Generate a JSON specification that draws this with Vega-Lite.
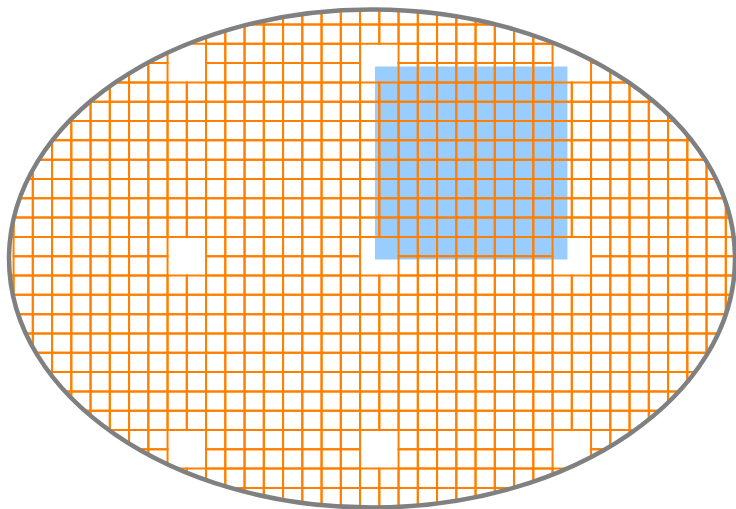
{
"$schema": "https://vega.github.io/schema/vega-lite/v6.json",
"width": 736, "height": 509, "padding": 0,
"autosize": {"type": "none"},
"background": "white",
"config": {"view": {"stroke": null}},
"datasets": {
"highlight": [{"c": 18.8, "c2": 28.8, "r": 1.2, "r2": 11.2}],
"wafer": [{"c": 18.647, "r": 11.145}],
"cells": [
{"r":-2,"c":12},{"r":-2,"c":13},{"r":-2,"c":14},{"r":-2,"c":15},{"r":-2,"c":16},{"r":-2,"c":17},{"r":-2,"c":18},{"r":-2,"c":19},{"r":-2,"c":20},{"r":-2,"c":21},{"r":-2,"c":22},{"r":-2,"c":23},{"r":-2,"c":24},
{"r":-1,"c":9},{"r":-1,"c":10},{"r":-1,"c":11},{"r":-1,"c":12},{"r":-1,"c":13},{"r":-1,"c":14},{"r":-1,"c":15},{"r":-1,"c":16},{"r":-1,"c":17},{"r":-1,"c":18},{"r":-1,"c":19},{"r":-1,"c":20},{"r":-1,"c":21},{"r":-1,"c":22},{"r":-1,"c":23},{"r":-1,"c":24},{"r":-1,"c":25},{"r":-1,"c":26},{"r":-1,"c":27},{"r":-1,"c":28},
{"r":0,"c":7},{"r":0,"c":10},{"r":0,"c":11},{"r":0,"c":12},{"r":0,"c":13},{"r":0,"c":14},{"r":0,"c":15},{"r":0,"c":16},{"r":0,"c":17},{"r":0,"c":20},{"r":0,"c":21},{"r":0,"c":22},{"r":0,"c":23},{"r":0,"c":24},{"r":0,"c":25},{"r":0,"c":26},{"r":0,"c":27},{"r":0,"c":30},
{"r":1,"c":5},{"r":1,"c":6},{"r":1,"c":7},{"r":1,"c":10},{"r":1,"c":11},{"r":1,"c":12},{"r":1,"c":13},{"r":1,"c":14},{"r":1,"c":15},{"r":1,"c":16},{"r":1,"c":17},{"r":1,"c":20},{"r":1,"c":21},{"r":1,"c":22},{"r":1,"c":23},{"r":1,"c":24},{"r":1,"c":25},{"r":1,"c":26},{"r":1,"c":27},{"r":1,"c":30},{"r":1,"c":31},
{"r":2,"c":4},{"r":2,"c":5},{"r":2,"c":6},{"r":2,"c":7},{"r":2,"c":8},{"r":2,"c":9},{"r":2,"c":10},{"r":2,"c":11},{"r":2,"c":12},{"r":2,"c":13},{"r":2,"c":14},{"r":2,"c":15},{"r":2,"c":16},{"r":2,"c":17},{"r":2,"c":18},{"r":2,"c":19},{"r":2,"c":20},{"r":2,"c":21},{"r":2,"c":22},{"r":2,"c":23},{"r":2,"c":24},{"r":2,"c":25},{"r":2,"c":26},{"r":2,"c":27},{"r":2,"c":28},{"r":2,"c":29},{"r":2,"c":30},{"r":2,"c":31},{"r":2,"c":32},{"r":2,"c":33},
{"r":3,"c":2},{"r":3,"c":3},{"r":3,"c":4},{"r":3,"c":5},{"r":3,"c":6},{"r":3,"c":7},{"r":3,"c":8},{"r":3,"c":9},{"r":3,"c":10},{"r":3,"c":11},{"r":3,"c":12},{"r":3,"c":13},{"r":3,"c":14},{"r":3,"c":15},{"r":3,"c":16},{"r":3,"c":17},{"r":3,"c":18},{"r":3,"c":19},{"r":3,"c":20},{"r":3,"c":21},{"r":3,"c":22},{"r":3,"c":23},{"r":3,"c":24},{"r":3,"c":25},{"r":3,"c":26},{"r":3,"c":27},{"r":3,"c":28},{"r":3,"c":29},{"r":3,"c":30},{"r":3,"c":31},{"r":3,"c":32},{"r":3,"c":33},{"r":3,"c":34},
{"r":4,"c":2},{"r":4,"c":3},{"r":4,"c":4},{"r":4,"c":5},{"r":4,"c":6},{"r":4,"c":7},{"r":4,"c":8},{"r":4,"c":9},{"r":4,"c":10},{"r":4,"c":11},{"r":4,"c":12},{"r":4,"c":13},{"r":4,"c":14},{"r":4,"c":15},{"r":4,"c":16},{"r":4,"c":17},{"r":4,"c":18},{"r":4,"c":19},{"r":4,"c":20},{"r":4,"c":21},{"r":4,"c":22},{"r":4,"c":23},{"r":4,"c":24},{"r":4,"c":25},{"r":4,"c":26},{"r":4,"c":27},{"r":4,"c":28},{"r":4,"c":29},{"r":4,"c":30},{"r":4,"c":31},{"r":4,"c":32},{"r":4,"c":33},{"r":4,"c":34},{"r":4,"c":35},
{"r":5,"c":1},{"r":5,"c":2},{"r":5,"c":3},{"r":5,"c":4},{"r":5,"c":5},{"r":5,"c":6},{"r":5,"c":7},{"r":5,"c":8},{"r":5,"c":9},{"r":5,"c":10},{"r":5,"c":11},{"r":5,"c":12},{"r":5,"c":13},{"r":5,"c":14},{"r":5,"c":15},{"r":5,"c":16},{"r":5,"c":17},{"r":5,"c":18},{"r":5,"c":19},{"r":5,"c":20},{"r":5,"c":21},{"r":5,"c":22},{"r":5,"c":23},{"r":5,"c":24},{"r":5,"c":25},{"r":5,"c":26},{"r":5,"c":27},{"r":5,"c":28},{"r":5,"c":29},{"r":5,"c":30},{"r":5,"c":31},{"r":5,"c":32},{"r":5,"c":33},{"r":5,"c":34},{"r":5,"c":35},
{"r":6,"c":0},{"r":6,"c":1},{"r":6,"c":2},{"r":6,"c":3},{"r":6,"c":4},{"r":6,"c":5},{"r":6,"c":6},{"r":6,"c":7},{"r":6,"c":8},{"r":6,"c":9},{"r":6,"c":10},{"r":6,"c":11},{"r":6,"c":12},{"r":6,"c":13},{"r":6,"c":14},{"r":6,"c":15},{"r":6,"c":16},{"r":6,"c":17},{"r":6,"c":18},{"r":6,"c":19},{"r":6,"c":20},{"r":6,"c":21},{"r":6,"c":22},{"r":6,"c":23},{"r":6,"c":24},{"r":6,"c":25},{"r":6,"c":26},{"r":6,"c":27},{"r":6,"c":28},{"r":6,"c":29},{"r":6,"c":30},{"r":6,"c":31},{"r":6,"c":32},{"r":6,"c":33},{"r":6,"c":34},{"r":6,"c":35},{"r":6,"c":36},
{"r":7,"c":0},{"r":7,"c":1},{"r":7,"c":2},{"r":7,"c":3},{"r":7,"c":4},{"r":7,"c":5},{"r":7,"c":6},{"r":7,"c":7},{"r":7,"c":8},{"r":7,"c":9},{"r":7,"c":10},{"r":7,"c":11},{"r":7,"c":12},{"r":7,"c":13},{"r":7,"c":14},{"r":7,"c":15},{"r":7,"c":16},{"r":7,"c":17},{"r":7,"c":18},{"r":7,"c":19},{"r":7,"c":20},{"r":7,"c":21},{"r":7,"c":22},{"r":7,"c":23},{"r":7,"c":24},{"r":7,"c":25},{"r":7,"c":26},{"r":7,"c":27},{"r":7,"c":28},{"r":7,"c":29},{"r":7,"c":30},{"r":7,"c":31},{"r":7,"c":32},{"r":7,"c":33},{"r":7,"c":34},{"r":7,"c":35},{"r":7,"c":36},
{"r":8,"c":0},{"r":8,"c":1},{"r":8,"c":2},{"r":8,"c":3},{"r":8,"c":4},{"r":8,"c":5},{"r":8,"c":6},{"r":8,"c":7},{"r":8,"c":8},{"r":8,"c":9},{"r":8,"c":10},{"r":8,"c":11},{"r":8,"c":12},{"r":8,"c":13},{"r":8,"c":14},{"r":8,"c":15},{"r":8,"c":16},{"r":8,"c":17},{"r":8,"c":18},{"r":8,"c":19},{"r":8,"c":20},{"r":8,"c":21},{"r":8,"c":22},{"r":8,"c":23},{"r":8,"c":24},{"r":8,"c":25},{"r":8,"c":26},{"r":8,"c":27},{"r":8,"c":28},{"r":8,"c":29},{"r":8,"c":30},{"r":8,"c":31},{"r":8,"c":32},{"r":8,"c":33},{"r":8,"c":34},{"r":8,"c":35},{"r":8,"c":36},{"r":8,"c":37},
{"r":9,"c":-1},{"r":9,"c":0},{"r":9,"c":1},{"r":9,"c":2},{"r":9,"c":3},{"r":9,"c":4},{"r":9,"c":5},{"r":9,"c":6},{"r":9,"c":7},{"r":9,"c":8},{"r":9,"c":9},{"r":9,"c":10},{"r":9,"c":11},{"r":9,"c":12},{"r":9,"c":13},{"r":9,"c":14},{"r":9,"c":15},{"r":9,"c":16},{"r":9,"c":17},{"r":9,"c":18},{"r":9,"c":19},{"r":9,"c":20},{"r":9,"c":21},{"r":9,"c":22},{"r":9,"c":23},{"r":9,"c":24},{"r":9,"c":25},{"r":9,"c":26},{"r":9,"c":27},{"r":9,"c":28},{"r":9,"c":29},{"r":9,"c":30},{"r":9,"c":31},{"r":9,"c":32},{"r":9,"c":33},{"r":9,"c":34},{"r":9,"c":35},{"r":9,"c":36},{"r":9,"c":37},
{"r":10,"c":0},{"r":10,"c":1},{"r":10,"c":2},{"r":10,"c":3},{"r":10,"c":4},{"r":10,"c":5},{"r":10,"c":6},{"r":10,"c":7},{"r":10,"c":10},{"r":10,"c":11},{"r":10,"c":12},{"r":10,"c":13},{"r":10,"c":14},{"r":10,"c":15},{"r":10,"c":16},{"r":10,"c":17},{"r":10,"c":20},{"r":10,"c":21},{"r":10,"c":22},{"r":10,"c":23},{"r":10,"c":24},{"r":10,"c":25},{"r":10,"c":26},{"r":10,"c":27},{"r":10,"c":30},{"r":10,"c":31},{"r":10,"c":32},{"r":10,"c":33},{"r":10,"c":34},{"r":10,"c":35},{"r":10,"c":36},{"r":10,"c":37},
{"r":11,"c":0},{"r":11,"c":1},{"r":11,"c":2},{"r":11,"c":3},{"r":11,"c":4},{"r":11,"c":5},{"r":11,"c":6},{"r":11,"c":7},{"r":11,"c":10},{"r":11,"c":11},{"r":11,"c":12},{"r":11,"c":13},{"r":11,"c":14},{"r":11,"c":15},{"r":11,"c":16},{"r":11,"c":17},{"r":11,"c":20},{"r":11,"c":21},{"r":11,"c":22},{"r":11,"c":23},{"r":11,"c":24},{"r":11,"c":25},{"r":11,"c":26},{"r":11,"c":27},{"r":11,"c":30},{"r":11,"c":31},{"r":11,"c":32},{"r":11,"c":33},{"r":11,"c":34},{"r":11,"c":35},{"r":11,"c":36},{"r":11,"c":37},
{"r":12,"c":-1},{"r":12,"c":0},{"r":12,"c":1},{"r":12,"c":2},{"r":12,"c":3},{"r":12,"c":4},{"r":12,"c":5},{"r":12,"c":6},{"r":12,"c":7},{"r":12,"c":8},{"r":12,"c":9},{"r":12,"c":10},{"r":12,"c":11},{"r":12,"c":12},{"r":12,"c":13},{"r":12,"c":14},{"r":12,"c":15},{"r":12,"c":16},{"r":12,"c":17},{"r":12,"c":18},{"r":12,"c":19},{"r":12,"c":20},{"r":12,"c":21},{"r":12,"c":22},{"r":12,"c":23},{"r":12,"c":24},{"r":12,"c":25},{"r":12,"c":26},{"r":12,"c":27},{"r":12,"c":28},{"r":12,"c":29},{"r":12,"c":30},{"r":12,"c":31},{"r":12,"c":32},{"r":12,"c":33},{"r":12,"c":34},{"r":12,"c":35},{"r":12,"c":36},{"r":12,"c":37},
{"r":13,"c":-1},{"r":13,"c":0},{"r":13,"c":1},{"r":13,"c":2},{"r":13,"c":3},{"r":13,"c":4},{"r":13,"c":5},{"r":13,"c":6},{"r":13,"c":7},{"r":13,"c":8},{"r":13,"c":9},{"r":13,"c":10},{"r":13,"c":11},{"r":13,"c":12},{"r":13,"c":13},{"r":13,"c":14},{"r":13,"c":15},{"r":13,"c":16},{"r":13,"c":17},{"r":13,"c":18},{"r":13,"c":19},{"r":13,"c":20},{"r":13,"c":21},{"r":13,"c":22},{"r":13,"c":23},{"r":13,"c":24},{"r":13,"c":25},{"r":13,"c":26},{"r":13,"c":27},{"r":13,"c":28},{"r":13,"c":29},{"r":13,"c":30},{"r":13,"c":31},{"r":13,"c":32},{"r":13,"c":33},{"r":13,"c":34},{"r":13,"c":35},{"r":13,"c":36},{"r":13,"c":37},
{"r":14,"c":0},{"r":14,"c":1},{"r":14,"c":2},{"r":14,"c":3},{"r":14,"c":4},{"r":14,"c":5},{"r":14,"c":6},{"r":14,"c":7},{"r":14,"c":8},{"r":14,"c":9},{"r":14,"c":10},{"r":14,"c":11},{"r":14,"c":12},{"r":14,"c":13},{"r":14,"c":14},{"r":14,"c":15},{"r":14,"c":16},{"r":14,"c":17},{"r":14,"c":18},{"r":14,"c":19},{"r":14,"c":20},{"r":14,"c":21},{"r":14,"c":22},{"r":14,"c":23},{"r":14,"c":24},{"r":14,"c":25},{"r":14,"c":26},{"r":14,"c":27},{"r":14,"c":28},{"r":14,"c":29},{"r":14,"c":30},{"r":14,"c":31},{"r":14,"c":32},{"r":14,"c":33},{"r":14,"c":34},{"r":14,"c":35},{"r":14,"c":36},{"r":14,"c":37},
{"r":15,"c":0},{"r":15,"c":1},{"r":15,"c":2},{"r":15,"c":3},{"r":15,"c":4},{"r":15,"c":5},{"r":15,"c":6},{"r":15,"c":7},{"r":15,"c":8},{"r":15,"c":9},{"r":15,"c":10},{"r":15,"c":11},{"r":15,"c":12},{"r":15,"c":13},{"r":15,"c":14},{"r":15,"c":15},{"r":15,"c":16},{"r":15,"c":17},{"r":15,"c":18},{"r":15,"c":19},{"r":15,"c":20},{"r":15,"c":21},{"r":15,"c":22},{"r":15,"c":23},{"r":15,"c":24},{"r":15,"c":25},{"r":15,"c":26},{"r":15,"c":27},{"r":15,"c":28},{"r":15,"c":29},{"r":15,"c":30},{"r":15,"c":31},{"r":15,"c":32},{"r":15,"c":33},{"r":15,"c":34},{"r":15,"c":35},{"r":15,"c":36},
{"r":16,"c":1},{"r":16,"c":2},{"r":16,"c":3},{"r":16,"c":4},{"r":16,"c":5},{"r":16,"c":6},{"r":16,"c":7},{"r":16,"c":8},{"r":16,"c":9},{"r":16,"c":10},{"r":16,"c":11},{"r":16,"c":12},{"r":16,"c":13},{"r":16,"c":14},{"r":16,"c":15},{"r":16,"c":16},{"r":16,"c":17},{"r":16,"c":18},{"r":16,"c":19},{"r":16,"c":20},{"r":16,"c":21},{"r":16,"c":22},{"r":16,"c":23},{"r":16,"c":24},{"r":16,"c":25},{"r":16,"c":26},{"r":16,"c":27},{"r":16,"c":28},{"r":16,"c":29},{"r":16,"c":30},{"r":16,"c":31},{"r":16,"c":32},{"r":16,"c":33},{"r":16,"c":34},{"r":16,"c":35},{"r":16,"c":36},
{"r":17,"c":1},{"r":17,"c":2},{"r":17,"c":3},{"r":17,"c":4},{"r":17,"c":5},{"r":17,"c":6},{"r":17,"c":7},{"r":17,"c":8},{"r":17,"c":9},{"r":17,"c":10},{"r":17,"c":11},{"r":17,"c":12},{"r":17,"c":13},{"r":17,"c":14},{"r":17,"c":15},{"r":17,"c":16},{"r":17,"c":17},{"r":17,"c":18},{"r":17,"c":19},{"r":17,"c":20},{"r":17,"c":21},{"r":17,"c":22},{"r":17,"c":23},{"r":17,"c":24},{"r":17,"c":25},{"r":17,"c":26},{"r":17,"c":27},{"r":17,"c":28},{"r":17,"c":29},{"r":17,"c":30},{"r":17,"c":31},{"r":17,"c":32},{"r":17,"c":33},{"r":17,"c":34},{"r":17,"c":35},
{"r":18,"c":2},{"r":18,"c":3},{"r":18,"c":4},{"r":18,"c":5},{"r":18,"c":6},{"r":18,"c":7},{"r":18,"c":8},{"r":18,"c":9},{"r":18,"c":10},{"r":18,"c":11},{"r":18,"c":12},{"r":18,"c":13},{"r":18,"c":14},{"r":18,"c":15},{"r":18,"c":16},{"r":18,"c":17},{"r":18,"c":18},{"r":18,"c":19},{"r":18,"c":20},{"r":18,"c":21},{"r":18,"c":22},{"r":18,"c":23},{"r":18,"c":24},{"r":18,"c":25},{"r":18,"c":26},{"r":18,"c":27},{"r":18,"c":28},{"r":18,"c":29},{"r":18,"c":30},{"r":18,"c":31},{"r":18,"c":32},{"r":18,"c":33},{"r":18,"c":34},
{"r":19,"c":3},{"r":19,"c":4},{"r":19,"c":5},{"r":19,"c":6},{"r":19,"c":7},{"r":19,"c":8},{"r":19,"c":9},{"r":19,"c":10},{"r":19,"c":11},{"r":19,"c":12},{"r":19,"c":13},{"r":19,"c":14},{"r":19,"c":15},{"r":19,"c":16},{"r":19,"c":17},{"r":19,"c":18},{"r":19,"c":19},{"r":19,"c":20},{"r":19,"c":21},{"r":19,"c":22},{"r":19,"c":23},{"r":19,"c":24},{"r":19,"c":25},{"r":19,"c":26},{"r":19,"c":27},{"r":19,"c":28},{"r":19,"c":29},{"r":19,"c":30},{"r":19,"c":31},{"r":19,"c":32},{"r":19,"c":33},
{"r":20,"c":4},{"r":20,"c":5},{"r":20,"c":6},{"r":20,"c":7},{"r":20,"c":10},{"r":20,"c":11},{"r":20,"c":12},{"r":20,"c":13},{"r":20,"c":14},{"r":20,"c":15},{"r":20,"c":16},{"r":20,"c":17},{"r":20,"c":20},{"r":20,"c":21},{"r":20,"c":22},{"r":20,"c":23},{"r":20,"c":24},{"r":20,"c":25},{"r":20,"c":26},{"r":20,"c":27},{"r":20,"c":30},{"r":20,"c":31},{"r":20,"c":32},
{"r":21,"c":6},{"r":21,"c":7},{"r":21,"c":10},{"r":21,"c":11},{"r":21,"c":12},{"r":21,"c":13},{"r":21,"c":14},{"r":21,"c":15},{"r":21,"c":16},{"r":21,"c":17},{"r":21,"c":20},{"r":21,"c":21},{"r":21,"c":22},{"r":21,"c":23},{"r":21,"c":24},{"r":21,"c":25},{"r":21,"c":26},{"r":21,"c":27},{"r":21,"c":30},
{"r":22,"c":8},{"r":22,"c":9},{"r":22,"c":10},{"r":22,"c":11},{"r":22,"c":12},{"r":22,"c":13},{"r":22,"c":14},{"r":22,"c":15},{"r":22,"c":16},{"r":22,"c":17},{"r":22,"c":18},{"r":22,"c":19},{"r":22,"c":20},{"r":22,"c":21},{"r":22,"c":22},{"r":22,"c":23},{"r":22,"c":24},{"r":22,"c":25},{"r":22,"c":26},{"r":22,"c":27},{"r":22,"c":28},
{"r":23,"c":11},{"r":23,"c":12},{"r":23,"c":13},{"r":23,"c":14},{"r":23,"c":15},{"r":23,"c":16},{"r":23,"c":17},{"r":23,"c":18},{"r":23,"c":19},{"r":23,"c":20},{"r":23,"c":21},{"r":23,"c":22},{"r":23,"c":23},{"r":23,"c":24},{"r":23,"c":25},{"r":23,"c":26}
]
},
"layer": [
{
"data": {"name": "highlight"},
"mark": {"type": "rect", "fill": "#99ccff", "strokeWidth": 0},
"encoding": {
"x": {"field": "c", "type": "quantitative", "scale": {"domain": [-0.678, 37.556], "nice": false, "zero": false}, "axis": null},
"x2": {"field": "c2"},
"y": {"field": "r", "type": "quantitative", "scale": {"domain": [-2.2424, 24.117], "nice": false, "zero": false, "reverse": true}, "axis": null},
"y2": {"field": "r2"}
}
},
{
"data": {"name": "cells"},
"mark": {"type": "rect", "fillOpacity": 0, "stroke": "#ff8000", "strokeWidth": 2, "binSpacing": 0},
"encoding": {
"x": {"field": "c", "type": "quantitative", "bin": {"binned": true, "step": 1}, "scale": {"domain": [-0.678, 37.556], "nice": false, "zero": false}, "axis": null},
"y": {"field": "r", "type": "quantitative", "bin": {"binned": true, "step": 1}, "scale": {"domain": [-2.2424, 24.117], "nice": false, "zero": false, "reverse": true}, "axis": null}
}
},
{
"data": {"name": "wafer"},
"mark": {"type": "point", "shape": "M-420,-320L420,-320L420,320L-420,320Z M-363,0A363,249,0,1,0,363,0A363,249,0,1,0,-363,0Z", "size": 4, "filled": true, "fill": "white", "opacity": 1, "strokeWidth": 0},
"encoding": {
"x": {"field": "c", "type": "quantitative", "scale": {"domain": [-0.678, 37.556], "nice": false, "zero": false}, "axis": null},
"y": {"field": "r", "type": "quantitative", "scale": {"domain": [-2.2424, 24.117], "nice": false, "zero": false, "reverse": true}, "axis": null}
}
},
{
"data": {"name": "wafer"},
"mark": {"type": "point", "shape": "M-363,0A363,249,0,1,0,363,0A363,249,0,1,0,-363,0Z", "size": 4, "filled": false, "stroke": "#808080", "strokeWidth": 4.5, "opacity": 1},
"encoding": {
"x": {"field": "c", "type": "quantitative", "scale": {"domain": [-0.678, 37.556], "nice": false, "zero": false}, "axis": null},
"y": {"field": "r", "type": "quantitative", "scale": {"domain": [-2.2424, 24.117], "nice": false, "zero": false, "reverse": true}, "axis": null}
}
}
]
}
